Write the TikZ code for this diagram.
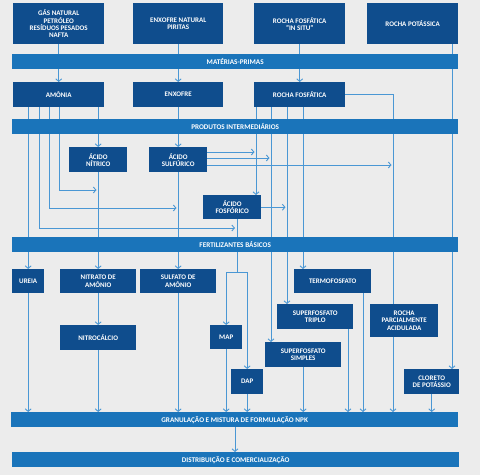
\documentclass[tikz,border=0pt]{standalone}
\usepackage{fontspec}
\setmainfont{Carlito}
\usetikzlibrary{arrows.meta}
\definecolor{bgc}{HTML}{ECECEC}
\definecolor{boxc}{HTML}{0F4D8D}
\definecolor{bandc}{HTML}{1A74BA}
\definecolor{linec}{HTML}{4A97D4}
\pgfdeclarelayer{bg}\pgfdeclarelayer{lines}\pgfsetlayers{bg,lines,main}
\begin{document}
\begin{tikzpicture}[x=1pt,y=-1pt,
 box/.style={fill=boxc,text=white,font=\fontsize{7}{7.2}\selectfont\bfseries,align=center,inner sep=0pt,anchor=north west},
 band/.style={fill=bandc,text=white,font=\fontsize{7.2}{7.2}\selectfont\bfseries,inner sep=0pt,anchor=north west,minimum width=446pt,minimum height=15pt},
 conn/.style={draw=linec,line width=0.9pt},
 arr/.style={conn,-{Straight Barb[length=2.6pt,width=6pt]}}]
\begin{pgfonlayer}{bg}
\fill[bgc] (0,0) rectangle (480,475);
\end{pgfonlayer}
\useasboundingbox (0,0) rectangle (480,475);
% top boxes
\node[box,minimum width=91pt,minimum height=41pt] (g) at (13,3) {GÁS NATURAL\\PETRÓLEO\\RESÍDUOS PESADOS\\NAFTA};
\node[box,minimum width=90pt,minimum height=41pt] (en) at (133,3) {ENXOFRE NATURAL\\PIRITAS};
\node[box,minimum width=91pt,minimum height=41pt] (rf) at (254,3) {ROCHA FOSFÁTICA\\"IN SITU"};
\node[box,minimum width=91pt,minimum height=41pt] (rp) at (367,3) {ROCHA POTÁSSICA};
\node[band] (mp) at (12,54) {MATÉRIAS-PRIMAS};
\node[box,minimum width=91pt,minimum height=25pt] (am) at (13,82) {AMÔNIA};
\node[box,minimum width=90pt,minimum height=25pt] (enx) at (133,82) {ENXOFRE};
\node[box,minimum width=91pt,minimum height=25pt] (rfo) at (254,82) {ROCHA FOSFÁTICA};
\node[band] (pi) at (12,119) {PRODUTOS INTERMEDIÁRIOS};
\node[box,minimum width=58pt,minimum height=25pt] (an) at (69,147) {ÁCIDO\\NÍTRICO};
\node[box,minimum width=58pt,minimum height=25pt] (as) at (149,147) {ÁCIDO\\SULFÚRICO};
\node[box,minimum width=58pt,minimum height=24pt] (af) at (203,195) {ÁCIDO\\FOSFÓRICO};
\node[band] (fb) at (12,237) {FERTILIZANTES BÁSICOS};
\node[box,minimum width=32pt,minimum height=24pt] (ur) at (12,269) {UREIA};
\node[box,minimum width=76pt,minimum height=24pt] (na) at (60,269) {NITRATO DE\\AMÔNIO};
\node[box,minimum width=76pt,minimum height=24pt] (sa) at (140,269) {SULFATO DE\\AMÔNIO};
\node[box,minimum width=77pt,minimum height=24pt] (te) at (294,269) {TERMOFOSFATO};
\node[box,minimum width=76pt,minimum height=25pt] (nc) at (60,325) {NITROCÁLCIO};
\node[box,minimum width=32pt,minimum height=24pt] (map) at (210,325) {MAP};
\node[box,minimum width=32pt,minimum height=25pt] (dap) at (231,369) {DAP};
\node[box,minimum width=76pt,minimum height=25pt] (st) at (277,304) {SUPERFOSFATO\\TRIPLO};
\node[box,minimum width=76pt,minimum height=25pt] (ss) at (265,342) {SUPERFOSFATO\\SIMPLES};
\node[box,minimum width=68pt,minimum height=33pt] (rpa) at (370,304) {ROCHA\\PARCIALMENTE\\ACIDULADA};
\node[box,minimum width=55pt,minimum height=25pt] (cl) at (404,369) {CLORETO\\DE POTÁSSIO};
\node[band,minimum width=447pt] (gr) at (11,412) {GRANULAÇÃO E MISTURA DE FORMULAÇÃO NPK};
\node[band,minimum width=447pt] (di) at (12,452) {DISTRIBUIÇÃO E COMERCIALIZAÇÃO};
% helper coordinates
\foreach \v in {39,49,59,235,237,256,271,287,303,348,363,393,452}{\coordinate (x\v) at (\v,0);}
\foreach \v in {152,158,165}{\coordinate (y\v) at (0,\v);}
\coordinate (j1) at (235,228);
\coordinate (j2) at (176.5,208);
\coordinate (j3) at (96.5,190);
\coordinate (s1) at (237,272);
\begin{pgfonlayer}{lines}
\draw[arr] (g.south) -- (am.north);
\draw[arr] (en.south) -- (enx.north);
\draw[arr] (rf.south) -- (rfo.north);
\draw[arr] (rp.south -| x452) -- (cl.north -| x452);
% amonia
\draw[arr] (am.south -| ur.north) -- (ur.north);
\draw[arr] (am.south -| x39) |- (j1);
\draw[arr] (am.south -| x49) |- (j2);
\draw[arr] (am.south -| x59) |- (j3);
\draw[arr] (am.south -| an.north) -- (an.north);
\draw[arr] (an.south) -- (na.north);
\draw[arr] (na.south) -- (nc.north);
% enxofre
\draw[arr] (enx.south -| as.north) -- (as.north);
\draw[arr] (as.south) -- (sa.north);
\draw[arr] (as.east |- y152) -- ([xshift=-1.5pt]x256 |- y152);
\draw[arr] (as.east |- y158) -- ([xshift=-1.5pt]x271 |- y158);
\draw[arr] (as.east |- y165) -- ([xshift=-1.5pt]x393 |- y165);
% rocha fosfatica
\draw[arr] (rfo.south -| x256) -- (af.north -| x256);
\draw[arr] (rfo.south -| x271) -- (ss.north -| x271);
\draw[arr] (rfo.south -| x287) -- (st.north -| x287);
\draw[arr] (rfo.south -| x303) -- (te.north -| x303);
\draw[conn] (rfo.east) -| (rpa.north -| x393);
% fosforico
\draw[arr] (af.east) -- ([xshift=-1.5pt]af.east -| x287);
\draw[conn] (af.south -| x237) -- (s1);
\draw[arr] (s1) -| (map.north);
\draw[arr] (s1) -| (dap.north);
% to granulacao
\draw[arr] (ur.south) -- (ur.south |- gr.north);
\draw[arr] (nc.south) -- (nc.south |- gr.north);
\draw[arr] (sa.south) -- (sa.south |- gr.north);
\draw[arr] (map.south) -- (map.south |- gr.north);
\draw[arr] (dap.south) -- (dap.south |- gr.north);
\draw[arr] (ss.south) -- (ss.south |- gr.north);
\draw[arr] (st.south -| x348) -- (gr.north -| x348);
\draw[arr] (te.south -| x363) -- (gr.north -| x363);
\draw[arr] (rpa.south -| x393) -- (gr.north -| x393);
\draw[arr] (cl.south) -- (cl.south |- gr.north);
\draw[arr] (gr.south -| x235) -- (di.north -| x235);
\end{pgfonlayer}
\end{tikzpicture}
\end{document}
